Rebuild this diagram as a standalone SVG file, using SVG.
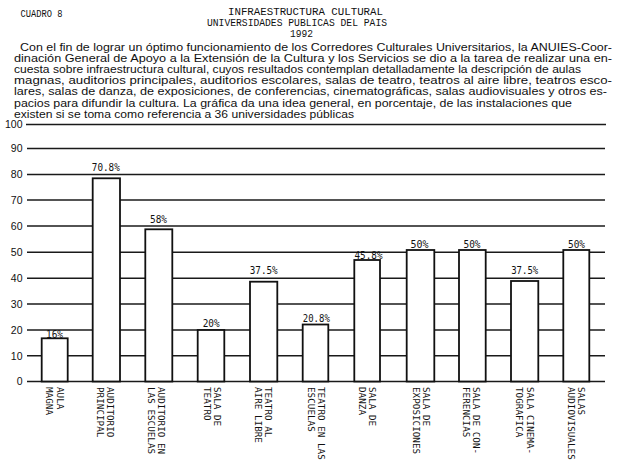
<svg xmlns="http://www.w3.org/2000/svg" width="619" height="460" viewBox="0 0 619 460">
<style>
.hdr{font-family:"Liberation Mono","DejaVu Sans Mono",monospace;font-size:11px;fill:#111}
.par{font-family:"Liberation Sans","DejaVu Sans",sans-serif;font-size:10px;fill:#111}
.ax{font-family:"Liberation Sans","DejaVu Sans",sans-serif;font-size:10.5px;fill:#111;text-anchor:end}
.grid line{stroke:#1a1a1a;stroke-width:1.6}
.bar{fill:#fff;stroke:#111;stroke-width:1.8}
.val{font-family:"DejaVu Sans Mono","Liberation Mono",monospace;font-size:10px;fill:#111;text-anchor:middle}
.cat{font-family:"DejaVu Sans Mono","Liberation Mono",monospace;font-size:9.3px;fill:#111}
</style>
<rect width="619" height="460" fill="#fff"/>
<g id="header">
<text class="hdr" x="20.5" y="16.5" textLength="42" lengthAdjust="spacingAndGlyphs">CUADRO 8</text>
<text class="hdr" x="228" y="15" textLength="155" lengthAdjust="spacingAndGlyphs">INFRAESTRUCTURA CULTURAL</text>
<text class="hdr" x="207" y="25.5" textLength="180" lengthAdjust="spacingAndGlyphs">UNIVERSIDADES PUBLICAS DEL PAIS</text>
<text class="hdr" x="290" y="36.5" textLength="23" lengthAdjust="spacingAndGlyphs">1992</text>
</g>
<g id="paragraph">
<text class="par" x="20" y="50.5" textLength="592" lengthAdjust="spacingAndGlyphs">Con el fin de lograr un óptimo funcionamiento de los Corredores Culturales Universitarios, la ANUIES-Coor-</text>
<text class="par" x="14" y="61.7" textLength="598" lengthAdjust="spacingAndGlyphs">dinación General de Apoyo a la Extensión de la Cultura y los Servicios se dio a la tarea de realizar una en-</text>
<text class="par" x="14" y="72.9" textLength="567" lengthAdjust="spacingAndGlyphs">cuesta sobre infraestructura cultural, cuyos resultados contemplan detalladamente la descripción de aulas</text>
<text class="par" x="14" y="84.1" textLength="598" lengthAdjust="spacingAndGlyphs">magnas, auditorios principales, auditorios escolares, salas de teatro, teatros al aire libre, teatros esco-</text>
<text class="par" x="14" y="95.3" textLength="593" lengthAdjust="spacingAndGlyphs">lares, salas de danza, de exposiciones, de conferencias, cinematográficas, salas audiovisuales y otros es-</text>
<text class="par" x="14" y="106.5" textLength="558" lengthAdjust="spacingAndGlyphs">pacios para difundir la cultura. La gráfica da una idea general, en porcentaje, de las instalaciones que</text>
<text class="par" x="14" y="117.7" textLength="340" lengthAdjust="spacingAndGlyphs">existen si se toma como referencia a 36 universidades públicas</text>
</g>
<g id="axis-labels">
<text class="ax" x="22.5" y="128.3">100</text>
<text class="ax" x="22.5" y="152.3">90</text>
<text class="ax" x="22.5" y="178.3">80</text>
<text class="ax" x="22.5" y="203.8">70</text>
<text class="ax" x="22.5" y="229.8">60</text>
<text class="ax" x="22.5" y="256.1">50</text>
<text class="ax" x="22.5" y="282.1">40</text>
<text class="ax" x="22.5" y="307.8">30</text>
<text class="ax" x="22.5" y="333.8">20</text>
<text class="ax" x="22.5" y="359.5">10</text>
<text class="ax" x="22.5" y="385.3">0</text>
</g>
<g id="connectors" class="grid">
<line x1="26" y1="124.5" x2="606" y2="124.5"/>
<line x1="27" y1="148.5" x2="605" y2="148.5"/>
<line x1="27" y1="174.5" x2="605" y2="174.5"/>
<line x1="27" y1="200" x2="605" y2="200"/>
<line x1="27" y1="226" x2="605" y2="226"/>
<line x1="27" y1="252.3" x2="605" y2="252.3"/>
<line x1="27" y1="278.3" x2="605" y2="278.3"/>
<line x1="27" y1="304" x2="605" y2="304"/>
<line x1="27" y1="330" x2="605" y2="330"/>
<line x1="27" y1="355.7" x2="605" y2="355.7"/>
<line x1="27" y1="381.5" x2="605" y2="381.5"/>
</g>
<g id="bar-aula-magna">
<rect class="bar" x="41.7" y="338.3" width="26" height="43.2"/>
<text class="val" x="54.5" y="338" textLength="17" lengthAdjust="spacingAndGlyphs">16%</text>
<text class="cat" transform="translate(56.7,387) rotate(90)">AULA<tspan x="0" dy="10.3">MAGNA</tspan></text>
</g>
<g id="bar-auditorio-principal">
<rect class="bar" x="92.7" y="178.3" width="27.3" height="203.2"/>
<text class="val" x="105.8" y="171" textLength="28" lengthAdjust="spacingAndGlyphs">70.8%</text>
<text class="cat" transform="translate(107.3,387) rotate(90)">AUDITORIO<tspan x="0" dy="10.3">PRINCIPAL</tspan></text>
</g>
<g id="bar-auditorio-escuelas">
<rect class="bar" x="145.3" y="229.3" width="27" height="152.2"/>
<text class="val" x="158.5" y="223" textLength="17" lengthAdjust="spacingAndGlyphs">58%</text>
<text class="cat" transform="translate(158.3,387) rotate(90)">AUDITORIO EN<tspan x="0" dy="10.3">LAS ESCUELAS</tspan></text>
</g>
<g id="bar-sala-teatro">
<rect class="bar" x="197.7" y="330" width="26.6" height="51.5"/>
<text class="val" x="211.2" y="327" textLength="17" lengthAdjust="spacingAndGlyphs">20%</text>
<text class="cat" transform="translate(214.3,387) rotate(90)">SALA DE<tspan x="0" dy="10.3">TEATRO</tspan></text>
</g>
<g id="bar-teatro-aire-libre">
<rect class="bar" x="250" y="281.7" width="27.3" height="99.8"/>
<text class="val" x="263.7" y="274" textLength="28" lengthAdjust="spacingAndGlyphs">37.5%</text>
<text class="cat" transform="translate(265,387) rotate(90)">TEATRO AL<tspan x="0" dy="10.3">AIRE LIBRE</tspan></text>
</g>
<g id="bar-teatro-escuelas">
<rect class="bar" x="302.7" y="324.5" width="25.6" height="57"/>
<text class="val" x="316.3" y="321.5" textLength="27" lengthAdjust="spacingAndGlyphs">20.8%</text>
<text class="cat" transform="translate(318.3,387) rotate(90)">TEATRO EN LAS<tspan x="0" dy="10.3">ESCUELAS</tspan></text>
</g>
<g id="bar-sala-danza">
<rect class="bar" x="354.3" y="260" width="25.7" height="121.5"/>
<text class="val" x="368.5" y="259" textLength="28" lengthAdjust="spacingAndGlyphs">45.8%</text>
<text class="cat" transform="translate(369.3,387) rotate(90)">SALA DE<tspan x="0" dy="10.3">DANZA</tspan></text>
</g>
<g id="bar-sala-exposiciones">
<rect class="bar" x="406.7" y="250" width="27.6" height="131.5"/>
<text class="val" x="419.5" y="248" textLength="18" lengthAdjust="spacingAndGlyphs">50%</text>
<text class="cat" transform="translate(423.3,387) rotate(90)">SALA DE<tspan x="0" dy="10.3">EXPOSICIONES</tspan></text>
</g>
<g id="bar-sala-conferencias">
<rect class="bar" x="459" y="250" width="26.7" height="131.5"/>
<text class="val" x="472" y="248" textLength="17" lengthAdjust="spacingAndGlyphs">50%</text>
<text class="cat" transform="translate(473.3,387) rotate(90)">SALA DE CON-<tspan x="0" dy="10.3">FERENCIAS</tspan></text>
</g>
<g id="bar-sala-cinematografica">
<rect class="bar" x="511" y="281" width="27.3" height="100.5"/>
<text class="val" x="524.7" y="273.5" textLength="27" lengthAdjust="spacingAndGlyphs">37.5%</text>
<text class="cat" transform="translate(526.7,387) rotate(90)">SALA CINEMA-<tspan x="0" dy="10.3">TOGRAFICA</tspan></text>
</g>
<g id="bar-salas-audiovisuales">
<rect class="bar" x="563.3" y="250" width="26" height="131.5"/>
<text class="val" x="576.5" y="248" textLength="17" lengthAdjust="spacingAndGlyphs">50%</text>
<text class="cat" transform="translate(578.3,387) rotate(90)">SALAS<tspan x="0" dy="10.3">AUDIOVISUALES</tspan></text>
</g>
</svg>
